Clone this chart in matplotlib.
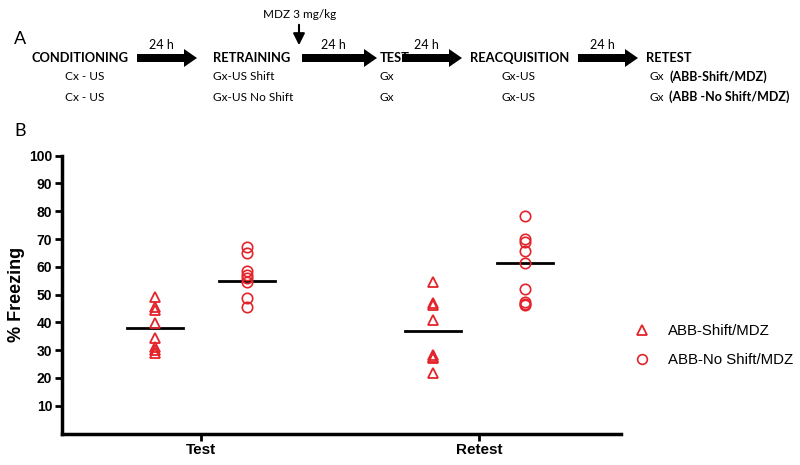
import matplotlib
matplotlib.use('Agg')
import matplotlib.pyplot as plt
from matplotlib.lines import Line2D
from matplotlib.patches import FancyArrow

plt.rcParams['font.family'] = ['Liberation Sans', 'DejaVu Sans']

# values (% freezing)
categories = ['Test', 'Retest']
shift_test = [49.3, 45.7, 44.5, 39.9, 34.3, 31.3, 30.1, 28.9]
noshift_test = [67.2, 65.1, 58.6, 57.1, 55.9, 54.7, 48.7, 45.4]
shift_retest = [54.4, 46.9, 46.4, 40.9, 28.2, 27.7, 27.2, 21.7]
noshift_retest = [78.3, 69.9, 69.0, 65.8, 61.3, 51.9, 47.4, 46.6, 46.2]
shift_median = [38.0, 37.0]
noshift_median = [54.9, 61.4]
yticks = [10, 20, 30, 40, 50, 60, 70, 80, 90, 100]

red = '#e3242b'
off = 0.165
half = 0.1

fig = plt.figure(figsize=(8, 4.65), dpi=100)

# ---- panel A: protocol scheme, drawn in pixel coordinates
top = fig.add_axes([0, 0, 1, 1])
top.set_xlim(0, 800)
top.set_ylim(465, 0)
top.axis('off')
tf = 'Lato'
sub = 8.6

top.text(20, 39, 'A', fontsize=13, family=tf, ha='center', va='center')
top.text(20, 131, 'B', fontsize=13, family=tf, ha='center', va='center')

heads = [('CONDITIONING', 32), ('RETRAINING', 213), ('TEST', 380),
         ('REACQUISITION', 470), ('RETEST', 646)]
for s, x in heads:
    top.text(x, 58, s, fontsize=9.3, family=tf, weight='bold', ha='left', va='center')

arrows = [(137, 197), (302, 377), (402, 462), (578, 638)]
for x0, x1 in arrows:
    top.add_patch(FancyArrow(x0, 58, x1 - x0, 0, width=8, head_width=18,
                             head_length=13, length_includes_head=True,
                             color='black', lw=0))
    top.text((x0 + x1) / 2 - 6, 45, '24 h', fontsize=9, family=tf,
             ha='center', va='center')

top.text(300, 14, 'MDZ 3 mg/kg', fontsize=8.5, family=tf, ha='center', va='center')
top.annotate('', xy=(299, 48), xytext=(299, 22),
             arrowprops=dict(arrowstyle='-|>,head_width=0.35,head_length=0.7',
                             color='black', lw=1.5))

rows = [77, 97]
for y in rows:
    top.text(85, y, 'Cx - US', fontsize=sub, family=tf, ha='center', va='center')
    top.text(380, y, 'Gx', fontsize=sub, family=tf, ha='left', va='center')
    top.text(502, y, 'Gx-US', fontsize=sub, family=tf, ha='left', va='center')
    top.text(650, y, 'Gx', fontsize=sub, family=tf, ha='left', va='center')
top.text(213, rows[0], 'Gx-US Shift', fontsize=sub, family=tf, ha='left', va='center')
top.text(213, rows[1], 'Gx-US No Shift', fontsize=sub, family=tf, ha='left', va='center')
top.text(669, rows[0], '(ABB-Shift/MDZ)', fontsize=9.0, family=tf, weight='bold',
         ha='left', va='center')
top.text(669, rows[1], '(ABB -No Shift/MDZ)', fontsize=9.0, family=tf, weight='bold',
         ha='left', va='center')

# ---- panel B: scatter with median lines
ax = fig.add_axes([0.0775, 0.0677, 0.6985, 0.5975])
groups = [(shift_test, noshift_test), (shift_retest, noshift_retest)]
for i, (sh, ns) in enumerate(groups):
    ax.plot([i - off] * len(sh), sh, linestyle='none', marker='^', ms=6.5,
            mfc='none', mec=red, mew=1.3, zorder=3)
    ax.plot([i + off] * len(ns), ns, linestyle='none', marker='o', ms=7.5,
            mfc='none', mec=red, mew=1.2, zorder=3)
    ax.plot([i - off - half, i - off + half], [shift_median[i]] * 2, color='black', lw=2)
    ax.plot([i + off - half, i + off + half], [noshift_median[i]] * 2, color='black', lw=2)

ax.set_xlim(-0.5, 1.51)
ax.set_ylim(0, 100)
ax.set_xticks(range(len(categories)))
ax.set_xticklabels(categories, fontsize=11, weight='bold')
ax.set_yticks(yticks)
ax.set_yticklabels([str(v) for v in yticks], fontsize=10, weight='bold')
ax.tick_params(width=2, length=5, direction='out', pad=2)
ax.set_ylabel('% Freezing', fontsize=13, weight='bold', labelpad=3)
for s in ['top', 'right']:
    ax.spines[s].set_visible(False)
for s in ['left', 'bottom']:
    ax.spines[s].set_linewidth(2.5)

handles = [
    Line2D([], [], linestyle='none', marker='^', ms=6.5, mfc='none', mec=red, mew=1.3),
    Line2D([], [], linestyle='none', marker='o', ms=7, mfc='none', mec=red, mew=1.2),
]
fig.legend(handles, ['ABB-Shift/MDZ', 'ABB-No Shift/MDZ'], loc='center left',
           bbox_to_anchor=(0.771, 0.256), frameon=False, fontsize=10.8,
           labelspacing=1.0, handletextpad=1.0, handlelength=1.5)

fig.savefig('out.png', dpi=100)
